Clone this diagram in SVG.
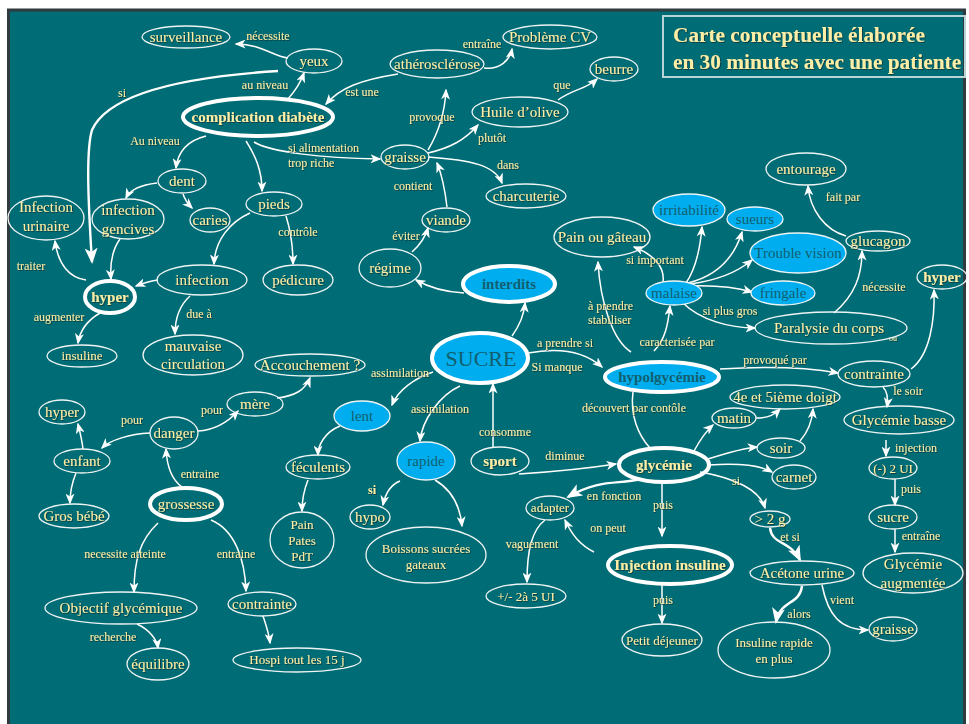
<svg xmlns="http://www.w3.org/2000/svg" width="969" height="724" viewBox="0 0 969 724">
<defs>
<marker id="ah" markerWidth="11" markerHeight="9" refX="9.5" refY="4.5" orient="auto" markerUnits="userSpaceOnUse"><path d="M0,0 L11,4.5 L0,9 L3,4.5 z" fill="#ffffff"/></marker>
<marker id="ahb" markerWidth="16" markerHeight="13" refX="14" refY="6.5" orient="auto" markerUnits="userSpaceOnUse"><path d="M0,0 L16,6.5 L0,13 L4,6.5 z" fill="#ffffff"/></marker>
<filter id="sh" x="-5%" y="-20%" width="110%" height="140%"><feDropShadow dx="0.8" dy="0.8" stdDeviation="0.3" flood-color="#10282a" flood-opacity="0.8"/></filter>
</defs>
<style>
.n ellipse{fill:none;stroke:#eef4f4;stroke-width:1.3}
.n.t ellipse{stroke:#ffffff;stroke-width:4}
.n.b ellipse{fill:#00aeef}
text{font-family:"Liberation Serif","Times New Roman",serif;fill:#fbeea6;filter:url(#sh)}
.n text{font-size:15px;text-anchor:middle}
.n.b text{fill:#135f6e;filter:none}
.n text.s{font-size:13px}
.bd{font-weight:bold}
.lb{font-size:12px;text-anchor:middle}
.lbl{font-size:12px}
#conn path{fill:none;stroke:#ffffff;stroke-width:1.5;marker-end:url(#ah)}
#conn path.nm{marker-end:none}
#conn path.k{stroke-width:2.4;marker-end:url(#ahb)}
</style>
<rect x="0" y="0" width="969" height="724" fill="#ffffff"/>
<rect x="8.5" y="10" width="956" height="716" fill="#006c75" stroke="#2f3b3e" stroke-width="3"/>
<g id="title">
<rect x="663" y="16" width="302" height="61" fill="none" stroke="#b9d3d6" stroke-width="2"/>
<text x="673" y="42" style="font-size:21.3px;font-weight:bold">Carte conceptuelle élaborée</text>
<text x="673" y="69" style="font-size:21.3px;font-weight:bold">en 30 minutes avec une patiente</text>
</g>
<g id="conn">
<path d="M288,58 C272,56 262,44 236,44"/>
<path d="M288,99 C296,90 300,84 304,73"/>
<path d="M278,71 C200,76 110,90 92,130 C86,150 88,200 92,262" class="k"/>
<path d="M398,74 C360,80 340,88 326,104"/>
<path d="M484,68 C500,70 510,60 512,49"/>
<path d="M428,150 C440,130 445,110 446,90"/>
<path d="M428,153 C450,148 465,140 478,125"/>
<path d="M558,100 C575,88 585,90 597,79"/>
<path d="M428,157 C470,160 495,165 502,183"/>
<path d="M254,142 C270,152 320,158 380,159"/>
<path d="M447,207 C445,190 442,175 437,163"/>
<path d="M412,252 C420,245 425,238 428,228"/>
<path d="M464,293 C445,292 430,288 416,280"/>
<path d="M206,136 C190,140 178,150 176,168"/>
<path d="M246,141 C255,155 262,170 262,191"/>
<path d="M157,183 C140,185 130,190 126,198"/>
<path d="M183,194 C185,200 188,204 192,208"/>
<path d="M250,213 C230,222 215,240 214,264"/>
<path d="M286,216 C292,235 293,250 293,264"/>
<path d="M120,239 C112,250 110,265 111,279"/>
<path d="M86,280 C70,278 58,265 55,241"/>
<path d="M158,280 C150,281 144,283 136,286"/>
<path d="M100,313 C88,320 80,330 78,343"/>
<path d="M190,296 C180,305 175,318 175,334"/>
<path d="M277,398 C295,396 305,390 310,378"/>
<path d="M198,431 C215,430 228,422 238,411"/>
<path d="M150,433 C130,434 110,440 102,448"/>
<path d="M83,449 C82,440 80,432 78,424"/>
<path d="M76,473 C71,485 70,495 70,503"/>
<path d="M182,487 C172,480 167,468 166,449"/>
<path d="M158,523 C140,540 134,560 134,592"/>
<path d="M211,520 C235,530 245,560 246,591"/>
<path d="M137,624 C150,630 157,640 158,648"/>
<path d="M263,616 C266,625 269,633 270,643"/>
<path d="M433,372 C415,378 398,390 392,405"/>
<path d="M460,386 C440,395 422,420 420,441"/>
<path d="M340,426 C325,432 318,445 318,455"/>
<path d="M308,480 C304,490 302,500 302,511"/>
<path d="M400,481 C390,485 385,495 383,505"/>
<path d="M435,480 C452,490 460,505 462,526"/>
<path d="M512,336 C520,325 524,315 525,303"/>
<path d="M493,447 C493,420 493,400 493,384"/>
<path d="M528,353 C560,347 585,352 602,367"/>
<path d="M519,474 C550,472 590,468 616,464"/>
<path d="M631,352 C612,340 600,300 598,262"/>
<path d="M654,351 C665,340 668,325 670,306"/>
<path d="M663,282 C665,268 655,255 634,247"/>
<path d="M686,283 C695,270 700,250 702,227"/>
<path d="M688,283 C720,275 735,255 742,232"/>
<path d="M690,284 C720,280 740,270 752,260"/>
<path d="M690,286 C720,285 738,288 752,292"/>
<path d="M683,303 C700,320 730,328 755,328"/>
<path d="M834,313 C855,295 862,275 862,251"/>
<path d="M846,236 C825,230 810,210 808,186"/>
<path d="M720,369 C770,366 810,368 838,373"/>
<path d="M911,369 C930,355 935,320 934,290"/>
<path d="M883,387 C888,392 888,400 887,407"/>
<path d="M886,440 L886,456"/>
<path d="M895,479 L895,505"/>
<path d="M895,529 L895,552"/>
<path d="M633,392 C630,415 638,435 650,448" class="nm"/>
<path d="M694,451 C700,440 705,432 713,425"/>
<path d="M756,418 C770,418 775,414 780,409"/>
<path d="M708,459 C730,452 745,448 757,447"/>
<path d="M800,441 C808,432 812,422 813,409"/>
<path d="M709,465 C740,463 760,465 772,472"/>
<path d="M700,472 C735,478 760,490 765,508"/>
<path d="M770,528 C772,545 790,540 800,560" class="k"/>
<path d="M802,586 C800,605 780,600 776,622" class="k"/>
<path d="M822,585 C828,615 840,630 868,630"/>
<path d="M640,479 C620,485 600,478 568,497" class="k"/>
<path d="M662,482 L662,536"/>
<path d="M594,552 C580,545 572,535 565,520"/>
<path d="M545,520 C532,530 527,550 527,582"/>
<path d="M662,584 L662,623"/>
</g>
<g id="labels">
<text class="lb" x="268" y="40">nécessite</text>
<text class="lb" x="265" y="89">au niveau</text>
<text class="lb" x="122" y="97">si</text>
<text class="lb" x="362" y="96">est une</text>
<text class="lb" x="482" y="48">entraîne</text>
<text class="lb" x="432" y="121">provoque</text>
<text class="lb" x="492" y="142">plutôt</text>
<text class="lb" x="562" y="89">que</text>
<text class="lb" x="508" y="169">dans</text>
<text class="lbl" x="288" y="152">si alimentation</text>
<text class="lbl" x="288" y="167">trop riche</text>
<text class="lb" x="413" y="190">contient</text>
<text class="lb" x="406" y="240">éviter</text>
<text class="lb" x="155" y="145">Au niveau</text>
<text class="lb" x="298" y="236">contrôle</text>
<text class="lb" x="31" y="270">traiter</text>
<text class="lb" x="59" y="321">augmenter</text>
<text class="lb" x="199" y="318">due à</text>
<text class="lb" x="212" y="414">pour</text>
<text class="lb" x="132" y="424">pour</text>
<text class="lb" x="200" y="478">entraine</text>
<text class="lb" x="125" y="558">necessite atteinte</text>
<text class="lb" x="236" y="558">entraine</text>
<text class="lb" x="113" y="641">recherche</text>
<text class="lb" x="400" y="377">assimilation</text>
<text class="lb" x="440" y="413">assimilation</text>
<text class="lb bd" x="372" y="494">si</text>
<text class="lb" x="505" y="436">consomme</text>
<text class="lb" x="565" y="347">a prendre si</text>
<text class="lb" x="557" y="371">Si manque</text>
<text class="lb" x="565" y="460">diminue</text>
<text class="lbl" x="588" y="310">à prendre</text>
<text class="lbl" x="588" y="324">stabiliser</text>
<text class="lb" x="677" y="346">caracterisée par</text>
<text class="lb" x="655" y="264">si important</text>
<text class="lb" x="730" y="315">si plus gros</text>
<text class="lb" x="884" y="291">nécessite</text>
<text class="lb" x="843" y="201">fait par</text>
<text class="lb" x="775" y="364">provoqué par</text>
<text class="lb" x="908" y="395">le soir</text>
<text class="lb" x="916" y="452">injection</text>
<text class="lb" x="911" y="493">puis</text>
<text class="lb" x="921" y="540">entraîne</text>
<text class="lb" x="634" y="412">découvert par contôle</text>
<text class="lb" x="736" y="485">si</text>
<text class="lb" x="790" y="541">et si</text>
<text class="lb" x="799" y="618">alors</text>
<text class="lb" x="842" y="604">vient</text>
<text class="lb" x="614" y="500">en fonction</text>
<text class="lb" x="663" y="509">puis</text>
<text class="lb" x="608" y="532">on peut</text>
<text class="lb" x="532" y="548">vaguement</text>
<text class="lb" x="663" y="604">puis</text>
<text x="893" y="341" style="font-size:8px;text-anchor:middle">ou</text>
</g>
<g id="n1" class="n"><ellipse cx="186" cy="37" rx="44" ry="11"/><text x="186" y="42">surveillance</text></g>
<g id="n2" class="n"><ellipse cx="314" cy="61" rx="28" ry="12"/><text x="314" y="66">yeux</text></g>
<g id="n3" class="n"><ellipse cx="437" cy="64" rx="47" ry="14"/><text x="437" y="69">athérosclérose</text></g>
<g id="n4" class="n"><ellipse cx="550" cy="37" rx="47" ry="12"/><text x="550" y="42">Problème CV</text></g>
<g id="n5" class="n"><ellipse cx="614" cy="69" rx="24" ry="12"/><text x="614" y="74">beurre</text></g>
<g id="n6" class="n"><ellipse cx="520" cy="112" rx="48" ry="15"/><text x="520" y="117">Huile d’olive</text></g>
<g id="n7" class="n t"><ellipse cx="258" cy="117" rx="75" ry="19"/><text x="258" y="122" class="bd">complication diabète</text></g>
<g id="n8" class="n"><ellipse cx="405" cy="157" rx="24" ry="12"/><text x="405" y="162">graisse</text></g>
<g id="n9" class="n"><ellipse cx="526" cy="196" rx="40" ry="12"/><text x="526" y="201">charcuterie</text></g>
<g id="n10" class="n"><ellipse cx="182" cy="181" rx="24" ry="12"/><text x="182" y="186">dent</text></g>
<g id="n11" class="n"><ellipse cx="210" cy="220" rx="20" ry="12"/><text x="210" y="225">caries</text></g>
<g id="n12" class="n"><ellipse cx="274" cy="204" rx="28" ry="12"/><text x="274" y="209">pieds</text></g>
<g id="n13" class="n"><ellipse cx="128" cy="219" rx="36" ry="20"/><text x="128" y="215">infection</text><text x="128" y="234">gencives</text></g>
<g id="n14" class="n"><ellipse cx="46" cy="218" rx="38" ry="22"/><text x="46" y="212">Infection</text><text x="46" y="231">urinaire</text></g>
<g id="n15" class="n"><ellipse cx="446" cy="220" rx="24" ry="12"/><text x="446" y="225">viande</text></g>
<g id="n16" class="n"><ellipse cx="390" cy="268" rx="31" ry="19"/><text x="390" y="273">régime</text></g>
<g id="n17" class="n t b"><ellipse cx="509" cy="284" rx="46" ry="18"/><text x="509" y="289" class="bd">interdits</text></g>
<g id="n18" class="n t"><ellipse cx="110" cy="297" rx="25" ry="16"/><text x="110" y="302" class="bd">hyper</text></g>
<g id="n19" class="n"><ellipse cx="202" cy="280" rx="45" ry="15"/><text x="202" y="285">infection</text></g>
<g id="n20" class="n"><ellipse cx="298" cy="280" rx="35" ry="15"/><text x="298" y="285">pédicure</text></g>
<g id="n21" class="n"><ellipse cx="82" cy="356" rx="35" ry="11"/><text x="82" y="360" class="s">insuline</text></g>
<g id="n22" class="n"><ellipse cx="193" cy="355" rx="50" ry="20"/><text x="193" y="351">mauvaise</text><text x="193" y="369">circulation</text></g>
<g id="n23" class="n"><ellipse cx="310" cy="365" rx="55" ry="11"/><text x="310" y="370">Accouchement ?</text></g>
<g id="n24" class="n t b"><ellipse cx="480" cy="358" rx="48" ry="25"/><text x="481" y="366" style="font-size:22px">SUCRE</text></g>
<g id="n25" class="n t b"><ellipse cx="662" cy="377" rx="57" ry="15"/><text x="662" y="382" class="bd">hypolgycémie</text></g>
<g id="n26" class="n b"><ellipse cx="362" cy="416" rx="28" ry="15"/><text x="362" y="421">lent</text></g>
<g id="n27" class="n"><ellipse cx="255" cy="404" rx="28" ry="12"/><text x="255" y="409">mère</text></g>
<g id="n28" class="n"><ellipse cx="62" cy="412" rx="23" ry="12"/><text x="62" y="417">hyper</text></g>
<g id="n29" class="n"><ellipse cx="174" cy="433" rx="24" ry="16"/><text x="174" y="438">danger</text></g>
<g id="n30" class="n"><ellipse cx="82" cy="461" rx="28" ry="12"/><text x="82" y="466">enfant</text></g>
<g id="n31" class="n"><ellipse cx="318" cy="467" rx="32" ry="12"/><text x="318" y="472">féculents</text></g>
<g id="n32" class="n b"><ellipse cx="426" cy="461" rx="29" ry="19"/><text x="426" y="466">rapide</text></g>
<g id="n33" class="n"><ellipse cx="500" cy="461" rx="29" ry="14"/><text x="500" y="466" class="bd">sport</text></g>
<g id="n34" class="n t"><ellipse cx="664" cy="465" rx="45" ry="17"/><text x="664" y="470" class="bd">glycémie</text></g>
<g id="n35" class="n"><ellipse cx="74" cy="516" rx="35" ry="12"/><text x="74" y="521">Gros bébé</text></g>
<g id="n36" class="n t"><ellipse cx="186" cy="504" rx="36" ry="16"/><text x="186" y="509">grossesse</text></g>
<g id="n37" class="n"><ellipse cx="302" cy="540" rx="32" ry="28"/><text x="302" y="529" class="s">Pain</text><text x="302" y="545" class="s">Pates</text><text x="302" y="561" class="s">PdT</text></g>
<g id="n38" class="n"><ellipse cx="370" cy="517" rx="20" ry="12"/><text x="370" y="522">hypo</text></g>
<g id="n39" class="n"><ellipse cx="426" cy="555" rx="60" ry="28"/><text x="426" y="553" class="s">Boissons sucrées</text><text x="426" y="569" class="s">gateaux</text></g>
<g id="n40" class="n"><ellipse cx="550" cy="508" rx="24" ry="12"/><text x="550" y="512" class="s">adapter</text></g>
<g id="n41" class="n t"><ellipse cx="670" cy="565" rx="62" ry="19"/><text x="670" y="570" class="bd">Injection insuline</text></g>
<g id="n42" class="n"><ellipse cx="526" cy="596" rx="40" ry="12"/><text x="526" y="601" class="s">+/- 2à 5 UI</text></g>
<g id="n43" class="n"><ellipse cx="662" cy="640" rx="40" ry="16"/><text x="662" y="645" class="s">Petit déjeuner</text></g>
<g id="n44" class="n"><ellipse cx="121" cy="608" rx="76" ry="16"/><text x="121" y="613">Objectif glycémique</text></g>
<g id="n45" class="n"><ellipse cx="158" cy="664" rx="31" ry="16"/><text x="158" y="669">équilibre</text></g>
<g id="n46" class="n"><ellipse cx="262" cy="604" rx="34" ry="12"/><text x="262" y="609">contrainte</text></g>
<g id="n47" class="n"><ellipse cx="297" cy="660" rx="64" ry="12"/><text x="297" y="664" class="s">Hospi tout les 15 j</text></g>
<g id="n48" class="n"><ellipse cx="602" cy="237" rx="48" ry="20"/><text x="602" y="242">Pain ou gâteau</text></g>
<g id="n49" class="n b"><ellipse cx="689" cy="210" rx="36" ry="16"/><text x="689" y="215">irritabilité</text></g>
<g id="n50" class="n b"><ellipse cx="755" cy="219" rx="28" ry="12"/><text x="755" y="224">sueurs</text></g>
<g id="n51" class="n"><ellipse cx="806" cy="169" rx="40" ry="16"/><text x="806" y="174">entourage</text></g>
<g id="n52" class="n b"><ellipse cx="798" cy="253" rx="48" ry="20"/><text x="798" y="258">Trouble vision</text></g>
<g id="n53" class="n"><ellipse cx="878" cy="241" rx="32" ry="10"/><text x="878" y="246">glucagon</text></g>
<g id="n54" class="n b"><ellipse cx="674" cy="293" rx="28" ry="12"/><text x="674" y="298">malaise</text></g>
<g id="n55" class="n b"><ellipse cx="783" cy="293" rx="32" ry="12"/><text x="783" y="298">fringale</text></g>
<g id="n56" class="n"><ellipse cx="831" cy="328" rx="76" ry="16"/><text x="829" y="333">Paralysie du corps</text></g>
<g id="n57" class="n"><ellipse cx="942" cy="277" rx="25" ry="12"/><text x="942" y="282" class="bd">hyper</text></g>
<g id="n58" class="n"><ellipse cx="874" cy="374" rx="36" ry="13"/><text x="874" y="379">contrainte</text></g>
<g id="n59" class="n"><ellipse cx="785" cy="397" rx="55" ry="12"/><text x="785" y="402">4e et 5ième doigt</text></g>
<g id="n60" class="n"><ellipse cx="734" cy="418" rx="22" ry="10"/><text x="734" y="423">matin</text></g>
<g id="n61" class="n"><ellipse cx="899" cy="420" rx="55" ry="14"/><text x="899" y="425">Glycémie basse</text></g>
<g id="n62" class="n"><ellipse cx="781" cy="448" rx="24" ry="10"/><text x="781" y="453">soir</text></g>
<g id="n63" class="n"><ellipse cx="794" cy="477" rx="22" ry="12"/><text x="794" y="482">carnet</text></g>
<g id="n64" class="n"><ellipse cx="893" cy="468" rx="24" ry="11"/><text x="893" y="473" class="s">(-) 2 UI</text></g>
<g id="n65" class="n"><ellipse cx="770" cy="519" rx="20" ry="8"/><text x="770" y="524">&gt; 2 g</text></g>
<g id="n66" class="n"><ellipse cx="893" cy="517" rx="24" ry="12"/><text x="893" y="522">sucre</text></g>
<g id="n67" class="n"><ellipse cx="802" cy="573" rx="52" ry="12"/><text x="802" y="578">Acétone urine</text></g>
<g id="n68" class="n"><ellipse cx="913" cy="573" rx="50" ry="20"/><text x="913" y="569">Glycémie</text><text x="913" y="588">augmentée</text></g>
<g id="n69" class="n"><ellipse cx="774" cy="650" rx="56" ry="28"/><text x="774" y="647" class="s">Insuline rapide</text><text x="774" y="663" class="s">en plus</text></g>
<g id="n70" class="n"><ellipse cx="893" cy="629" rx="24" ry="12"/><text x="893" y="634">graisse</text></g>
</svg>
